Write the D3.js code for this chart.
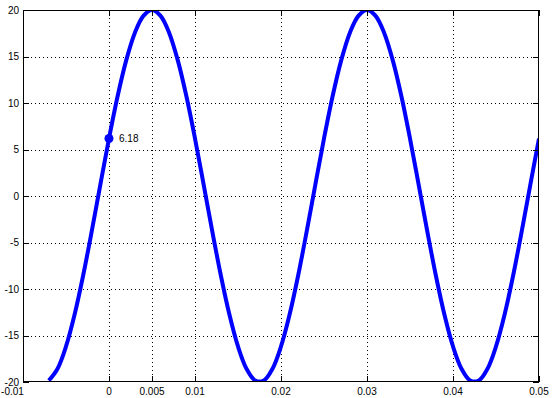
<!DOCTYPE html>
<html><head><meta charset="utf-8">
<script src="https://cdn.jsdelivr.net/npm/d3@7"></script>
<style>body{margin:0;background:#fff}svg{display:block}text{font-family:"Liberation Sans",Arial,Helvetica,sans-serif;font-size:10px}</style>
</head><body>
<svg id="c" width="556" height="398"></svg>
<script>
// data
const tValues = [-0.007,-0.006,-0.005,-0.004,-0.003,-0.002,-0.001,0,0.001,0.002,0.003,0.004,0.005,0.006,0.007,0.008,0.009,0.010,0.011,0.012,0.013,0.014,0.015,0.016,0.017,0.018,0.019,0.020,0.021,0.022,0.023,0.024,0.025,0.026,0.027,0.028,0.029,0.030,0.031,0.032,0.033,0.034,0.035,0.036,0.037,0.038,0.039,0.040,0.041,0.042,0.043,0.044,0.045,0.046,0.047,0.048,0.049,0.050];
const yValues = [-19.84,-18.60,-16.18,-12.75,-8.52,-3.75,1.26,6.18,10.72,14.58,17.53,19.37,20,19.37,17.53,14.58,10.72,6.18,1.26,-3.75,-8.52,-12.75,-16.18,-18.60,-19.84,-19.84,-18.60,-16.18,-12.75,-8.52,-3.75,1.26,6.18,10.72,14.58,17.53,19.37,20,19.37,17.53,14.58,10.72,6.18,1.26,-3.75,-8.52,-12.75,-16.18,-18.60,-19.84,-19.84,-18.60,-16.18,-12.75,-8.52,-3.75,1.26,6.18];
const xTicks = [-0.01,0,0.005,0.01,0.02,0.03,0.04,0.05];
const xTickLabels = ["-0.01","0","0.005","0.01","0.02","0.03","0.04","0.05"];
const yTicks = [-20,-15,-10,-5,0,5,10,15,20];
const yTickLabels = ["-20","-15","-10","-5","0","5","10","15","20"];
const markerPoint = {t:0, y:6.18, label:"6.18"};

const L=23, R=539, T=10, B=382;
const svg = d3.select("#c");
const x = d3.scaleLinear().domain([-0.01,0.05]).range([L,R]);
const y = d3.scaleLinear().domain([-20,20]).range([B,T]);

// grid
const g = svg.append("g").attr("stroke","#000").attr("stroke-width",1).attr("stroke-dasharray","1,3").attr("shape-rendering","crispEdges");
xTicks.filter(v=>v>-0.01 && v<0.05).forEach(v=>{
  g.append("line").attr("x1",Math.round(x(v))+0.5).attr("x2",Math.round(x(v))+0.5).attr("y1",T).attr("y2",B);
});
yTicks.filter(v=>v>-20 && v<20).forEach(v=>{
  g.append("line").attr("y1",Math.round(y(v))+0.5).attr("y2",Math.round(y(v))+0.5).attr("x1",L).attr("x2",R);
});

// clip
svg.append("clipPath").attr("id","clip").append("rect").attr("x",L).attr("y",T).attr("width",R-L).attr("height",B-T);

const line = d3.line().x((d,i)=>x(tValues[i])).y(d=>y(d)).curve(d3.curveCatmullRom.alpha(0.5));
svg.append("path").datum(yValues).attr("d",line).attr("fill","none").attr("stroke","#0000ff").attr("stroke-width",4).attr("stroke-linejoin","round").attr("clip-path","url(#clip)");

// box + ticks
const ax = svg.append("g").attr("stroke","#000").attr("stroke-width",1).attr("shape-rendering","crispEdges");
ax.append("rect").attr("x",L+0.5).attr("y",T+0.5).attr("width",R-L-1).attr("height",B-T-1).attr("fill","none");
const tl=6;
xTicks.forEach(v=>{
  const px=Math.round(x(v))+0.5;
  ax.append("line").attr("x1",px).attr("x2",px).attr("y1",B).attr("y2",B-tl);
  ax.append("line").attr("x1",px).attr("x2",px).attr("y1",T).attr("y2",T+tl);
});
yTicks.forEach(v=>{
  const py=Math.round(y(v))+0.5;
  ax.append("line").attr("y1",py).attr("y2",py).attr("x1",L).attr("x2",L+tl);
  ax.append("line").attr("y1",py).attr("y2",py).attr("x1",R).attr("x2",R-tl);
});

// labels
xTicks.forEach((v,i)=>{
  let px=x(v);
  if(i===0) px=12.5;
  svg.append("text").attr("x",px).attr("y",395).attr("text-anchor","middle").text(xTickLabels[i]);
});
yTicks.forEach((v,i)=>{
  svg.append("text").attr("x",19).attr("y",y(v)).attr("dy","0.35em").attr("text-anchor","end").text(yTickLabels[i]);
});

// marker
svg.append("circle").attr("cx",x(markerPoint.t)).attr("cy",y(markerPoint.y)).attr("r",4.5).attr("fill","#0000ff");
svg.append("text").attr("x",x(markerPoint.t)+10).attr("y",y(markerPoint.y)).attr("dy","0.35em").text(markerPoint.label);
</script>
</body></html>
